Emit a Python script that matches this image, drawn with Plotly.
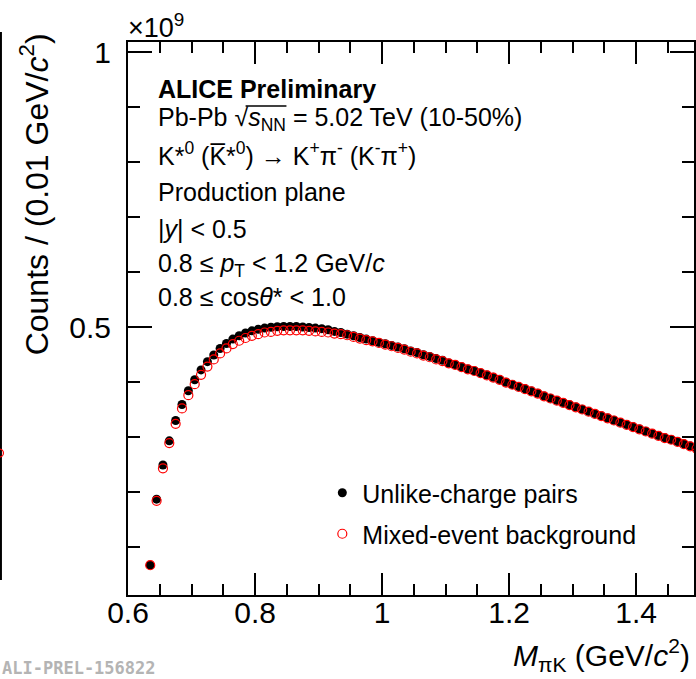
import plotly.graph_objects as go

# Bin centres of the invariant-mass histogram (GeV/c^2)
mass = [0.635, 0.645, 0.655, 0.665, 0.675, 0.685, 0.695, 0.705, 0.715, 0.725,
        0.735, 0.745, 0.755, 0.765, 0.775, 0.785, 0.795, 0.805, 0.815, 0.825,
        0.835, 0.845, 0.855, 0.865, 0.875, 0.885, 0.895, 0.905, 0.915, 0.925,
        0.935, 0.945, 0.955, 0.965, 0.975, 0.985, 0.995, 1.005, 1.015, 1.025,
        1.035, 1.045, 1.055, 1.065, 1.075, 1.085, 1.095, 1.105, 1.115, 1.125,
        1.135, 1.145, 1.155, 1.165, 1.175, 1.185, 1.195, 1.205, 1.215, 1.225,
        1.235, 1.245, 1.255, 1.265, 1.275, 1.285, 1.295, 1.305, 1.315, 1.325,
        1.335, 1.345, 1.355, 1.365, 1.375, 1.385, 1.395, 1.405, 1.415, 1.425,
        1.435, 1.445, 1.455, 1.465, 1.475, 1.485, 1.495]

# Unlike-charge pairs (counts, units of 1e9)
unlike = [0.067, 0.187, 0.249, 0.293, 0.330, 0.359, 0.384, 0.404, 0.422, 0.437,
          0.449, 0.461, 0.470, 0.478, 0.484, 0.489, 0.493, 0.496, 0.498, 0.4995,
          0.5005, 0.501, 0.501, 0.501, 0.500, 0.499, 0.498, 0.497, 0.495, 0.492,
          0.490, 0.487, 0.484, 0.481, 0.478, 0.475, 0.472, 0.4695, 0.4665, 0.4635,
          0.4605, 0.4565, 0.4535, 0.4495, 0.4465, 0.4425, 0.4395, 0.4345, 0.4315, 0.4275,
          0.4235, 0.4205, 0.4165, 0.4125, 0.4085, 0.4045, 0.3995, 0.3955, 0.3915, 0.3875,
          0.3835, 0.3795, 0.3745, 0.3705, 0.3665, 0.3625, 0.3585, 0.3545, 0.3505, 0.3465,
          0.3425, 0.3385, 0.3345, 0.3305, 0.3265, 0.3225, 0.3185, 0.3145, 0.3105, 0.3065,
          0.3025, 0.2985, 0.2955, 0.2915, 0.2875, 0.2835, 0.2795]

# Mixed-event background (counts, units of 1e9)
mixed = [0.067, 0.184, 0.243, 0.289, 0.324, 0.352, 0.376, 0.396, 0.413, 0.428,
         0.441, 0.452, 0.461, 0.469, 0.475, 0.480, 0.484, 0.487, 0.490, 0.491,
         0.493, 0.494, 0.494, 0.494, 0.494, 0.493, 0.492, 0.491, 0.490, 0.488,
         0.487, 0.485, 0.482, 0.479, 0.476, 0.474, 0.471, 0.468, 0.465, 0.462,
         0.459, 0.455, 0.452, 0.448, 0.445, 0.441, 0.438, 0.434, 0.431, 0.427,
         0.423, 0.420, 0.416, 0.412, 0.408, 0.404, 0.399, 0.395, 0.391, 0.387,
         0.383, 0.379, 0.374, 0.370, 0.366, 0.362, 0.358, 0.354, 0.350, 0.346,
         0.342, 0.338, 0.334, 0.330, 0.326, 0.322, 0.318, 0.314, 0.310, 0.306,
         0.302, 0.298, 0.295, 0.291, 0.287, 0.283, 0.279]

info_lines = [
    "Pb-Pb √<i>s</i><sub>NN</sub> = 5.02 TeV (10-50%)",
    "K*<sup>0</sup> (K\u0305*<sup>0</sup>) → K<sup>+</sup>π<sup>-</sup> (K<sup>-</sup>π<sup>+</sup>)",
    "Production plane",
    "|<i>y</i>| < 0.5",
    "0.8 ≤ <i>p</i><sub>T</sub> < 1.2 GeV/<i>c</i>",
    "0.8 ≤ cos<i>θ</i>* < 1.0",
]

W, H = 696, 679
L, R, T, B = 128, 0, 42, 84
pw, ph = W - L - R, H - T - B
FONT = "Liberation Sans, Arial, sans-serif"


def px(x):
    return (x - L) / pw


def py(y):
    return (H - B - y) / ph


fig = go.Figure()
fig.add_trace(go.Scatter(
    x=mass, y=unlike, mode="markers", name="Unlike-charge pairs",
    marker=dict(symbol="circle", size=9, color="black"),
    legend="legend"))
fig.add_trace(go.Scatter(
    x=mass, y=mixed, mode="markers", name="Mixed-event background",
    marker=dict(symbol="circle-open", size=9, color="#ff0000", line=dict(width=1.2, color="#ff0000")),
    legend="legend2"))

axis_common = dict(showline=True, linecolor="black", linewidth=2, showgrid=False,
                   zeroline=False, ticks="inside", tickcolor="black", tickwidth=2,
                   tickfont=dict(family=FONT, size=30, color="black"))

fig.update_xaxes(range=[0.6, 0.6 + pw / 637.5], tickmode="linear", tick0=0.6, dtick=0.2,
                 ticklen=22, mirror="ticks", ticklabelstandoff=-10,
                 minor=dict(ticks="inside", tick0=0.6, dtick=0.05, ticklen=11,
                            tickwidth=2, tickcolor="black"),
                 **axis_common)
fig.update_yaxes(range=[0.0127, 1.0182], tickmode="linear", tick0=0, dtick=0.5,
                 ticklen=24, mirror="ticks", ticklabelstandoff=9,
                 minor=dict(ticks="inside", tick0=0, dtick=0.1, ticklen=12,
                            tickwidth=2, tickcolor="black"),
                 **axis_common)

annotations = []
annotations.append(dict(text="<b>ALICE Preliminary</b>", x=px(156), y=py(89),
                        xanchor="left", yanchor="middle",
                        font=dict(family=FONT, size=25, color="black")))
line_y = [119, 154, 192, 229, 265, 297]
for t, yy in zip(info_lines, line_y):
    annotations.append(dict(text=t, x=px(156), y=py(yy), xanchor="left", yanchor="middle",
                            font=dict(family=FONT, size=25, color="black")))
annotations.append(dict(text="×10<sup>9</sup>", x=px(126), y=py(26), xanchor="left",
                        yanchor="middle", font=dict(family=FONT, size=27, color="black")))
annotations.append(dict(text="Counts / (0.01 GeV/<i>c</i><sup>2</sup>)", x=px(34), y=py(194),
                        xanchor="center", yanchor="middle", textangle=-90,
                        font=dict(family=FONT, size=32, color="black")))
annotations.append(dict(text="<i>M</i><sub>πK</sub> (GeV/<i>c</i><sup>2</sup>)", x=px(694), y=py(655),
                        xanchor="right", yanchor="middle",
                        font=dict(family=FONT, size=30, color="black")))
annotations.append(dict(text="<b>ALI-PREL-156822</b>", x=px(0), y=py(668),
                        xanchor="left", yanchor="middle",
                        font=dict(family="DejaVu Sans Mono, monospace", size=17, color="#b4b4b4")))
for a in annotations:
    a.update(xref="paper", yref="paper", showarrow=False)

shapes = [
    # overline of the square root
    dict(type="line", xref="paper", yref="paper", x0=px(246), x1=px(287), y0=py(106), y1=py(106),
         line=dict(color="black", width=1.5)),
    # right edge of the neighbouring panel
    dict(type="line", xref="paper", yref="paper", x0=px(0.5), x1=px(0.5), y0=py(32), y1=py(580),
         line=dict(color="black", width=2)),
    dict(type="circle", xref="paper", yref="paper", x0=px(-5), x1=px(3), y0=py(449), y1=py(457),
         line=dict(color="#ff0000", width=1.2)),
]

legend_font = dict(family=FONT, size=25, color="black")
fig.update_layout(
    width=W, height=H, margin=dict(l=L, r=R, t=T, b=B, pad=0),
    paper_bgcolor="white", plot_bgcolor="white",
    annotations=annotations, shapes=shapes,
    legend=dict(x=px(323), y=py(493), xanchor="left", yanchor="middle",
                bgcolor="rgba(0,0,0,0)", font=legend_font),
    legend2=dict(x=px(323), y=py(534), xanchor="left", yanchor="middle",
                 bgcolor="rgba(0,0,0,0)", font=legend_font),
    showlegend=True,
)

fig.write_html("out.html", config={"displayModeBar": False},
               post_script="document.body.style.margin='0';document.body.style.overflow='hidden';")
